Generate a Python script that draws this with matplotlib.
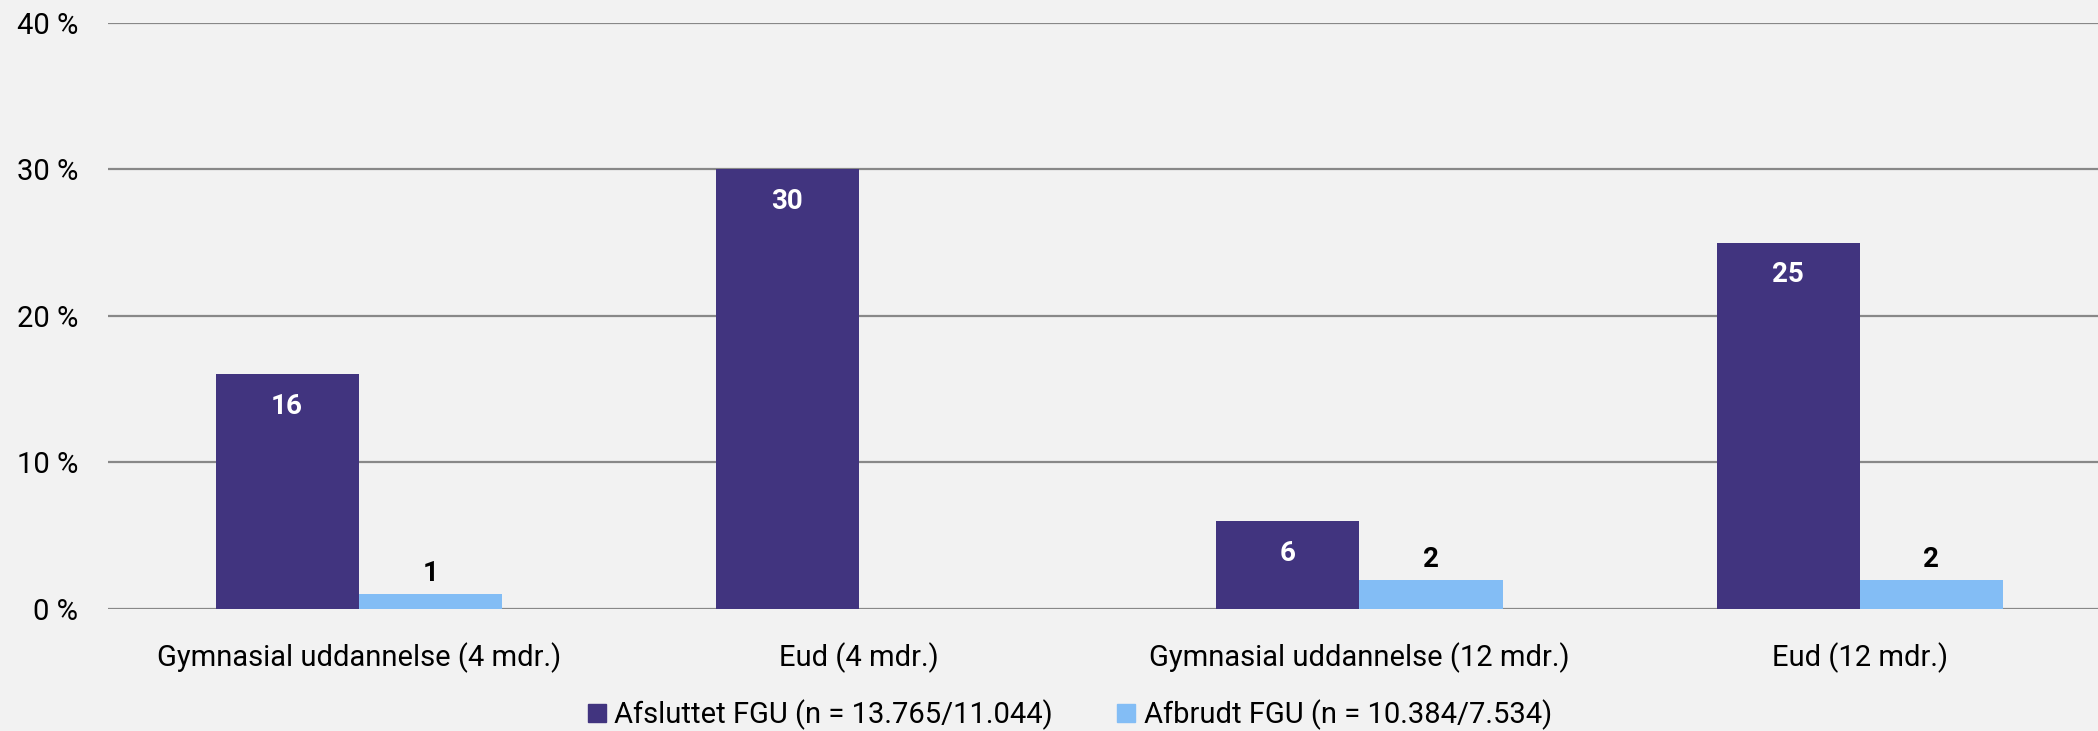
import numpy as np
import matplotlib.pyplot as plt
from matplotlib.patches import Patch

categories = ["Gymnasial uddannelse (4 mdr.)", "Eud (4 mdr.)",
              "Gymnasial uddannelse (12 mdr.)", "Eud (12 mdr.)"]
afsluttet = [16, 30, 6, 25]
afbrudt = [1, np.nan, 2, 2]
series_names = ["Afsluttet FGU (n = 13.765/11.044)", "Afbrudt FGU (n = 10.384/7.534)"]
yticks = [0, 10, 20, 30, 40]
ytick_labels = ["0 %", "10 %", "20 %", "30 %", "40 %"]

dark = "#41347f"
light = "#83bdf5"
bg = "#f2f2f2"

plt.rcParams['font.family'] = ['Roboto', 'DejaVu Sans']

fig = plt.figure(figsize=(20.98, 7.31), dpi=100, facecolor=bg)
ax = fig.add_axes([0.0517, 0.167, 0.954, 0.802])
ax.set_facecolor(bg)

x = np.arange(len(categories))
w = 0.286
bars1 = ax.bar(x - w / 2, afsluttet, w, color=dark, zorder=3)
bars2 = ax.bar(x + w / 2, afbrudt, w, color=light, zorder=3)

for b, v in zip(bars1, afsluttet):
    ax.text(b.get_x() + b.get_width() / 2, v - 2.2, str(v), ha="center", va="center",
            color="white", fontsize=20, fontweight="bold", zorder=4)
for b, v in zip(bars2, afbrudt):
    if np.isnan(v):
        continue
    ax.text(b.get_x() + b.get_width() / 2, v + 1.4, str(int(v)), ha="center", va="center",
            color="black", fontsize=20, fontweight="bold", zorder=4)

ax.set_xlim(-0.5, len(categories) - 0.5)
ax.set_ylim(0, 40)
ax.set_yticks(yticks)
ax.set_yticklabels(ytick_labels, fontsize=21)
ax.set_xticks(x)
ax.set_xticklabels(categories, fontsize=21)
ax.tick_params(axis="both", length=0)
ax.tick_params(axis="y", pad=22)
ax.tick_params(axis="x", pad=24)
ax.grid(axis="y", color="#888888", linewidth=1.6, zorder=0)
for s in ax.spines.values():
    s.set_visible(False)

handles = [Patch(color=dark), Patch(color=light)]
fig.legend(handles, series_names, loc="center", bbox_to_anchor=(0.51, 0.022), ncol=2,
           frameon=False, fontsize=21, handlelength=0.6, handleheight=0.6,
           handletextpad=0.3, columnspacing=2.2)

fig.savefig("out.png", dpi=100, facecolor=bg)
